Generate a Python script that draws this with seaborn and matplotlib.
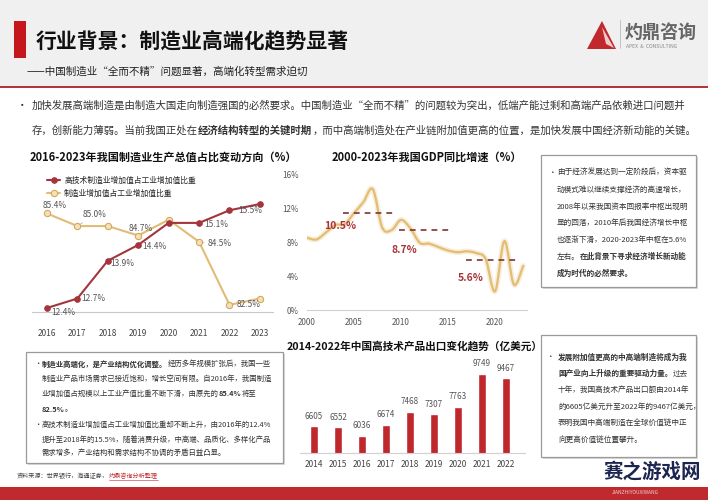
import matplotlib

matplotlib.use("Agg")

import matplotlib.pyplot as plt  # noqa: E402
import seaborn as sns  # noqa: E402
from matplotlib.patches import PathPatch, Polygon, Rectangle  # noqa: E402
from matplotlib.path import Path  # noqa: E402

# ---- data ----
mfg_years = [2016, 2017, 2018, 2019, 2020, 2021, 2022, 2023]
hitech_share = [12.4, 12.7, 13.9, 14.4, 15.1, 15.1, 15.5, 15.7]
mfg_share = [85.4, 85.0, 85.0, 84.7, 85.2, 84.5, 82.5, 82.7]
hitech_labeled = [2016, 2017, 2018, 2019, 2021, 2022]
mfg_labeled = [2016, 2017, 2019, 2021, 2022]

gdp_years = list(range(2000, 2024))
gdp_growth = [8.5, 8.3, 9.1, 10.0, 10.1, 11.4, 12.7, 14.2, 9.7, 9.4, 10.6, 9.6,
              7.9, 7.8, 7.4, 7.0, 6.8, 6.9, 6.7, 6.0, 2.2, 8.1, 3.0, 5.2]
period_start = [2003.8, 2009.8, 2016.9]
period_end = [2009.4, 2015.2, 2022.4]
period_level = [11.4, 9.4, 5.9]
period_label = ["10.5%", "8.7%", "5.6%"]

export_years = ["2014", "2015", "2016", "2017", "2018", "2019", "2020", "2021", "2022"]
export_value = [6605, 6552, 6036, 6674, 7468, 7307, 7763, 9749, 9467]

RED_LINE = "#a3363c"
TAN = "#e2bc76"
BAR_RED = "#c0272d"
DASH = "#7c3535"
TXT = "#333333"

W, H = 708, 500

sns.set_theme(style="white")
plt.rcParams["font.family"] = ["Noto Sans CJK SC", "DejaVu Sans"]
plt.rcParams["axes.unicode_minus"] = False

fig = plt.figure(figsize=(W / 100, H / 100), dpi=100)
fig.patch.set_facecolor("white")
renderer = fig.canvas.get_renderer()


def fx(x):
    return x / W


def fy(y):
    return 1 - y / H


def px_axes(left, top, right, bottom):
    return fig.add_axes([fx(left), fy(bottom), (right - left) / W, (bottom - top) / H])


def text_width(s, size, weight):
    # advance width, measured against a full-ink glyph so trailing punctuation counts
    a = fig.text(0, 0, s + "国", fontsize=size, fontweight=weight)
    b = fig.text(0, 0, "国", fontsize=size, fontweight=weight)
    w = a.get_window_extent(renderer).width - b.get_window_extent(renderer).width
    a.remove()
    b.remove()
    return w


def rich_line(x, y, runs, size, color=TXT):
    for s, bold in runs:
        weight = "bold" if bold else "normal"
        fig.text(fx(x), fy(y), s, fontsize=size, fontweight=weight, color=color,
                 ha="left", va="center")
        x += text_width(s, size, weight)


def text_box(left, top, right, bottom):
    fig.patches.append(Rectangle((fx(left + 2), fy(bottom + 2)), (right - left) / W,
                                 (bottom - top) / H, transform=fig.transFigure,
                                 facecolor="#d9d9d9", edgecolor="none", zorder=0))
    fig.patches.append(Rectangle((fx(left), fy(bottom)), (right - left) / W,
                                 (bottom - top) / H, transform=fig.transFigure,
                                 facecolor="white", edgecolor="#9a9a9a", lw=0.9, zorder=1))


# ---- header ----
fig.patches.append(Rectangle((0, fy(86)), 1, 86 / H, transform=fig.transFigure,
                             facecolor="#f0f0f0", edgecolor="none", zorder=0))
fig.patches.append(Rectangle((0, fy(88)), 1, 2 / H, transform=fig.transFigure,
                             facecolor="#b0383c", edgecolor="none", zorder=1))
fig.patches.append(Rectangle((fx(14), fy(58)), 12 / W, 37 / H, transform=fig.transFigure,
                             facecolor="#c4161c", edgecolor="none", zorder=1))
fig.text(fx(36), fy(41), "行业背景：制造业高端化趋势显著", fontsize=15, fontweight="heavy",
         color="#111111", va="center")
fig.text(fx(27), fy(72), "——中国制造业“全而不精”问题显著，高端化转型需求迫切", fontsize=7.6,
         color="#222222", va="center")

# logo
fig.patches.append(Polygon([(fx(602), fy(21)), (fx(587), fy(49)), (fx(616), fy(49))],
                           closed=True, transform=fig.transFigure, facecolor="#c0282d",
                           edgecolor="none", zorder=2))
fig.patches.append(Polygon([(fx(602), fy(27)), (fx(606), fy(44)), (fx(614), fy(48))],
                           closed=True, transform=fig.transFigure, facecolor="#f1c9c9",
                           edgecolor="none", zorder=3))
fig.lines.append(plt.Line2D([fx(620), fx(620)], [fy(20), fy(48)], transform=fig.transFigure,
                            color="#bbbbbb", lw=0.6))
fig.text(fx(625), fy(32), "灼鼎咨询", fontsize=13, fontweight="bold", color="#666666",
         va="center")
fig.text(fx(626), fy(47), "APEX  &  CONSULTING", fontsize=3.6, color="#888888", va="center")

# ---- intro paragraph ----
fig.text(fx(17), fy(106), "•", fontsize=7.5, color=TXT, va="center")
rich_line(32, 106, [("加快发展高端制造是由制造大国走向制造强国的必然要求。中国制造业“全而不精”"
                     "的问题较为突出，低端产能过剩和高端产品依赖进口问题并", False)], 7.5)
rich_line(32, 130, [("存，创新能力薄弱。当前我国正处在", False), ("经济结构转型的关键时期", True),
                    ("，而中高端制造处在产业链附加值更高的位置，是加快发展中国经济新动能的关键。", False)],
          7.5)

# ---- chart 1: manufacturing shares ----
fig.text(fx(163), fy(157), "2016-2023年我国制造业生产总值占比变动方向（%）", fontsize=8,
         fontweight="bold", color="#111111", ha="center", va="center")
ax1 = px_axes(32, 175, 273, 312)
ax1b = ax1.twinx()
sns.lineplot(x=mfg_years, y=mfg_share, ax=ax1, color=TAN, lw=1.5, marker="o",
             markersize=4.5, markerfacecolor="#f4e1bb", markeredgecolor="#d4a85a",
             markeredgewidth=0.8)
sns.lineplot(x=mfg_years, y=hitech_share, ax=ax1b, color=RED_LINE, lw=1.5, marker="o",
             markersize=4, markeredgecolor=RED_LINE)
ax1.set_xlim(2015.51, 2023.43)
ax1.set_ylim(82.273, 86.62)
ax1b.set_ylim(12.273, 16.62)
for a in (ax1, ax1b):
    a.set_yticks([])
    a.set_ylabel("")
    for side in ("left", "right", "top"):
        a.spines[side].set_visible(False)
ax1b.spines["bottom"].set_visible(False)
ax1.spines["bottom"].set_color("#c8c8c8")
ax1.spines["bottom"].set_linewidth(0.8)
ax1.set_xticks(mfg_years)
ax1.tick_params(axis="x", length=0, pad=12, labelsize=6, labelcolor="#444444")

hitech_offsets = {2016: (3, -3), 2017: (3, 0), 2018: (2, -2), 2019: (3, -1),
                  2021: (4, -1.5), 2022: (6, 0)}
for yr in hitech_labeled:
    v = hitech_share[mfg_years.index(yr)]
    ax1b.annotate(f"{v}%", (yr, v), xytext=hitech_offsets[yr], textcoords="offset points",
                  fontsize=6, color="#555555", ha="left", va="center")
mfg_offsets = {2016: (-3, 5.5), 2017: (4, 8), 2019: (-7, 5), 2021: (6, -1.5), 2022: (5, 0)}
for yr in mfg_labeled:
    v = mfg_share[mfg_years.index(yr)]
    arrow = dict(arrowstyle="-", color="#aaaaaa", lw=0.5, shrinkA=0, shrinkB=2) \
        if yr in (2017, 2021) else None
    ax1.annotate(f"{v}%", (yr, v), xytext=mfg_offsets[yr], textcoords="offset points",
                 fontsize=6, color="#555555", ha="left", va="center", arrowprops=arrow)
ax1.legend([ax1b.lines[0], ax1.lines[0]],
           ["高技术制造业增加值占工业增加值比重", "制造业增加值占工业增加值比重"],
           loc="upper left", bbox_to_anchor=(fx(47), fy(177)), bbox_transform=fig.transFigure,
           frameon=False, fontsize=5.6, handlelength=1.7, handletextpad=0.5,
           labelspacing=0.6, borderpad=0, borderaxespad=0)

# ---- chart 2: GDP growth ----
fig.text(fx(427), fy(157), "2000-2023年我国GDP同比增速（%）", fontsize=8, fontweight="bold",
         color="#111111", ha="center", va="center")
ax2 = px_axes(307, 174, 527, 310)
pts = list(zip(gdp_years, gdp_growth))
verts = [pts[0]]
codes = [Path.MOVETO]
for i in range(len(pts) - 1):
    p0 = pts[max(i - 1, 0)]
    p1 = pts[i]
    p2 = pts[i + 1]
    p3 = pts[min(i + 2, len(pts) - 1)]
    c1 = (p1[0] + (p2[0] - p0[0]) / 6, p1[1] + (p2[1] - p0[1]) / 6)
    c2 = (p2[0] - (p3[0] - p1[0]) / 6, p2[1] - (p3[1] - p1[1]) / 6)
    verts += [c1, c2, p2]
    codes += [Path.CURVE4] * 3
curve = Path(verts, codes)
ax2.add_patch(PathPatch(curve, fill=False, edgecolor=TAN, lw=4, alpha=0.25, capstyle="round"))
ax2.add_patch(PathPatch(curve, fill=False, edgecolor="#e3bd72", lw=1.6, capstyle="round"))
ax2.hlines(period_level, period_start, period_end, colors=DASH, lw=1.2,
           linestyles=(0, (3.5, 3)))
label_dx = [-0.3, 0.6, 0.55]
label_dy = [1.5, 2.35, 2.15]
for s, lev, lab, dx, dy in zip(period_start, period_level, period_label, label_dx, label_dy):
    ax2.text(s + dx, lev - dy, lab, fontsize=7.5, fontweight="bold", color="#a8343a",
             ha="center", va="center")
ax2.set_xlim(2000, 2023.4)
ax2.set_ylim(0, 16)
ax2.set_yticks([0, 4, 8, 12, 16])
ax2.set_yticklabels(["0%", "4%", "8%", "12%", "16%"])
ax2.set_xticks([2000, 2005, 2010, 2015, 2020])
ax2.tick_params(axis="both", length=0, labelsize=5.8, labelcolor="#555555")
ax2.tick_params(axis="x", pad=6)
ax2.tick_params(axis="y", pad=6)
for side in ("left", "right", "top"):
    ax2.spines[side].set_visible(False)
ax2.spines["bottom"].set_color("#d0d0d0")
ax2.spines["bottom"].set_linewidth(0.8)
ax2.set_facecolor("none")

# ---- right text box (top) ----
text_box(541, 155, 696, 287)
fig.text(fx(549), fy(173), "•", fontsize=5.5, color=TXT, va="center")
box2 = [
    [("由于经济发展达到一定阶段后，资本驱", False)],
    [("动模式难以继续支撑经济的高速增长，", False)],
    [("2008年以来我国资本回报率中枢出现明", False)],
    [("显的回落，2010年后我国经济增长中枢", False)],
    [("也逐渐下滑，2020-2023年中枢在5.6%", False)],
    [("左右。", False), ("在此背景下寻求经济增长新动能", True)],
    [("成为时代的必然要求。", True)],
]
for i, runs in enumerate(box2):
    rich_line(557, 173 + i * 16.7, runs, 5.5)

# ---- bottom-left text box ----
text_box(26, 352, 283, 463)
fig.text(fx(34), fy(364), "•", fontsize=5.3, color=TXT, va="center")
fig.text(fx(34), fy(425), "•", fontsize=5.3, color=TXT, va="center")
box1 = [
    (364, [("制造业高端化，是产业结构优化调整。", True), ("经历多年规模扩张后，我国一些", False)]),
    (379, [("制造业产品市场需求已接近饱和，增长空间有限。自2016年，我国制造", False)]),
    (394, [("业增加值占规模以上工业产值比重不断下滑，由原先的", False), ("85.4%", True),
           ("将至", False)]),
    (409, [("82.5%", True), ("。", False)]),
    (425, [("高技术制造业增加值占工业增加值比重却不断上升，由2016年的12.4%", False)]),
    (440, [("提升至2018年的15.5%，随着消费升级，中高端、品质化、多样化产品", False)]),
    (453, [("需求增多，产业结构和需求结构不协调的矛盾日益凸显。", False)]),
]
for y, runs in box1:
    rich_line(42, y, runs, 5.3)

rich_line(17, 476, [("资料来源：世界银行，海通证券，", False)], 4.4, color="#444444")
src_x = 17 + text_width("资料来源：世界银行，海通证券，", 4.4, "normal")
fig.text(fx(src_x), fy(476), "灼鼎咨询分析整理", fontsize=4.4, color="#c0272d", va="center")
src_w = text_width("灼鼎咨询分析整理", 4.4, "normal")
fig.lines.append(plt.Line2D([fx(src_x), fx(src_x + src_w)], [fy(480), fy(480)],
                            transform=fig.transFigure, color="#c0272d", lw=0.4))

# ---- chart 3: high-tech exports ----
fig.text(fx(415), fy(346), "2014-2022年中国高技术产品出口变化趋势（亿美元）", fontsize=7.7,
         fontweight="bold", color="#111111", ha="center", va="center")
ax3 = px_axes(300, 360, 525, 453)
sns.barplot(x=export_years, y=export_value, ax=ax3, color=BAR_RED, width=0.3,
            saturation=1)
ax3.bar_label(ax3.containers[0], fmt="%d", padding=4, fontsize=5.8, color="#555555")
ax3.set_ylim(5000, 10570)
ax3.set_xlim(-0.58, 8.79)
ax3.set_yticks([])
ax3.set_ylabel("")
ax3.tick_params(axis="x", length=0, pad=5, labelsize=6, labelcolor="#444444")
for side in ("left", "right", "top"):
    ax3.spines[side].set_visible(False)
ax3.spines["bottom"].set_color("#d0d0d0")
ax3.spines["bottom"].set_linewidth(0.8)
ax3.set_facecolor("none")

# ---- right text box (bottom) ----
text_box(541, 335, 696, 457)
fig.text(fx(547), fy(357), "•", fontsize=5.5, color=TXT, va="center")
box3 = [
    [("发展附加值更高的中高端制造将成为我", True)],
    [("国产业向上升级的重要驱动力量。", True), ("过去", False)],
    [("十年，我国高技术产品出口额由2014年", False)],
    [("的6605亿美元升至2022年的9467亿美元，", False)],
    [("表明我国中高端制造在全球价值链中正", False)],
    [("向更高价值链位置攀升。", False)],
]
for i, runs in enumerate(box3):
    rich_line(558, 357 + i * 16.5, runs, 5.5)

# ---- footer band and watermark ----
fig.patches.append(Rectangle((0, 0), 1, 13 / H, transform=fig.transFigure,
                             facecolor="#bf2a2e", edgecolor="none", zorder=0))
fig.text(fx(604), fy(472), "赛之游戏网", fontsize=14, fontweight="bold", color="#1b2550",
         va="center", zorder=5)
fig.text(fx(612), fy(492), "JIANZHIYOUXIWANG", fontsize=3.5, color="#f2d0d0", va="center",
         zorder=5)

fig.savefig("out.png", dpi=100)
